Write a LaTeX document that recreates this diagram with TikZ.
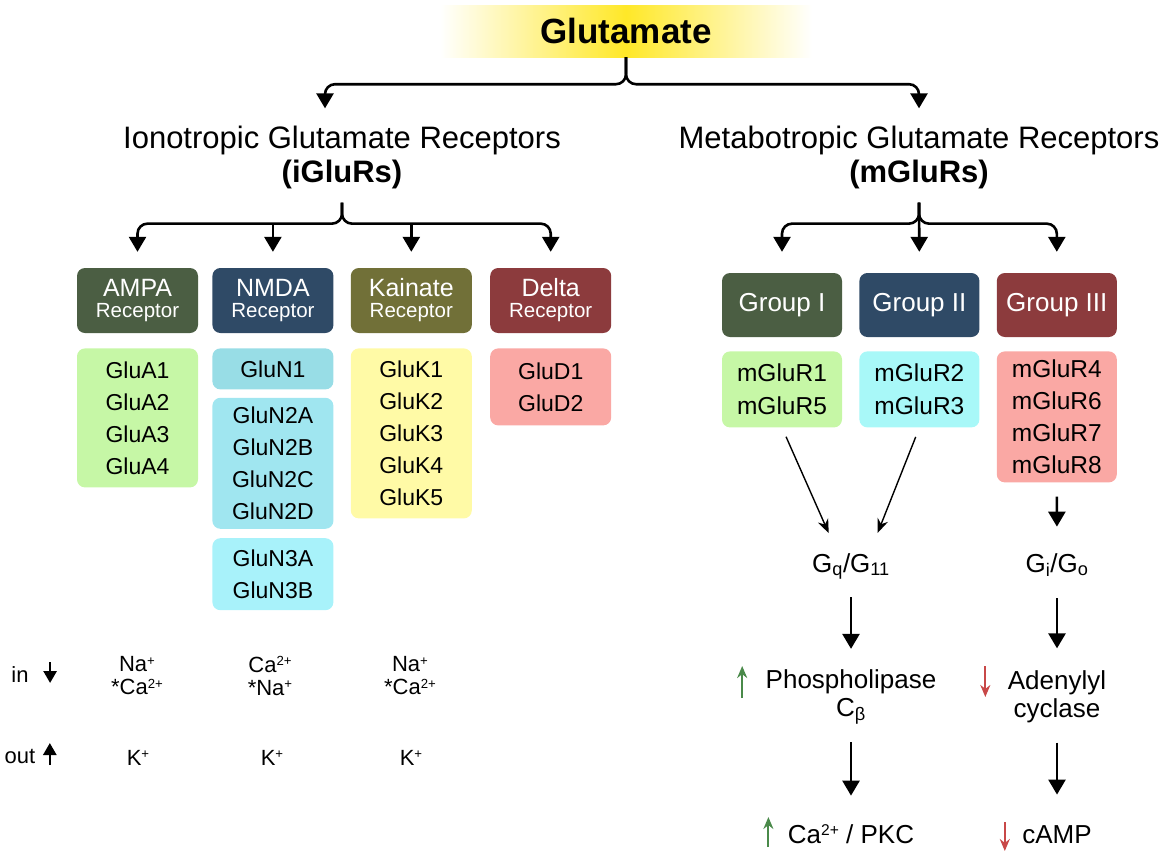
\documentclass[tikz,border=0pt]{standalone}
\usepackage{fontspec}
\setmainfont{Liberation Sans}
\usetikzlibrary{arrows.meta}
\usetikzlibrary{positioning}
\definecolor{glugold}{RGB}{255,232,40}
\definecolor{ampadark}{RGB}{75,94,67}
\definecolor{nmdadark}{RGB}{47,74,102}
\definecolor{kaindark}{RGB}{113,112,56}
\definecolor{deltadark}{RGB}{140,59,61}
\definecolor{ampalight}{RGB}{198,247,166}
\definecolor{nmdaone}{RGB}{152,221,230}
\definecolor{nmdatwo}{RGB}{160,230,240}
\definecolor{nmdathree}{RGB}{168,242,250}
\definecolor{kainlight}{RGB}{255,250,166}
\definecolor{deltalight}{RGB}{250,168,164}
\definecolor{grouptwo}{RGB}{168,248,248}
\definecolor{upgreen}{RGB}{74,138,74}
\definecolor{downred}{RGB}{200,72,72}
\newcommand{\upchg}[1]{\raisebox{0.55ex}{\scalebox{0.6}{#1}}}
\tikzset{
    arrow/.style={-{Triangle[length=15pt,width=17pt]}, line width=2.6pt},
    brace/.style={arrow, rounded corners=10pt},
    thinarrow/.style={-{Stealth[length=14pt,width=11pt]}, line width=1.4pt},
    flowmark/.style={-{Triangle[length=12pt,width=13pt]}, line width=2.6pt},
    upmark/.style={-{Stealth[length=12pt,width=10pt]}, line width=2pt, upgreen},
    downmark/.style={-{Stealth[length=12pt,width=10pt]}, line width=2pt, downred},
    rbox/.style = {
      rectangle,
      rounded corners=8pt,
      minimum width=121pt,
      minimum height=65pt,
      inner sep=2pt,
      text=white,
      align=center,
      font=\fontsize{20.5}{21}\selectfont
    },
    gbox/.style = {rbox, minimum width=120pt, minimum height=64pt, font=\fontsize{26}{26}\selectfont},
    sbox/.style = {
      rectangle,
      rounded corners=8pt,
      minimum width=121pt,
      inner sep=2pt,
      align=center,
      font=\fontsize{23}{32}\selectfont
    },
    flowtext/.style={align=center, font=\fontsize{26}{28}\selectfont},
    iontext/.style={align=center, font=\fontsize{22}{23}\selectfont},
}
\begin{document}
\begin{tikzpicture}[x=1pt, y=-1pt]
      \useasboundingbox (0,0) rectangle (1169,857);

      \node[shade, left color=white, right color=white, middle color=glugold, minimum width=372pt, minimum height=52pt, font=\fontsize{35}{35}\selectfont\bfseries] (glu) at (626,31) {Glutamate};

      \node[align=center, inner sep=0pt, font=\fontsize{31}{34}\selectfont] (ion) at (342,157) {Ionotropic Glutamate Receptors\\\textbf{(iGluRs)}};
      \node[align=center, inner sep=0pt, font=\fontsize{31}{34}\selectfont] (met) at (919,157) {Metabotropic Glutamate Receptors\\\textbf{(mGluRs)}};

      \draw[brace, shorten >=17pt] (glu.south) -- ++(0,27) -| ([xshift=-17pt]ion.north);
      \draw[brace, shorten >=17pt] (glu.south) -- ++(0,27) -| (met.north);

      % ionotropic receptors
      \node[rbox, fill=ampadark] (ampa) at (137.5,300.5) {{\fontsize{25}{25}\selectfont AMPA}\\Receptor};
      \node[rbox, fill=nmdadark, right=14pt of ampa] (nmda) {{\fontsize{25}{25}\selectfont NMDA}\\Receptor};
      \node[rbox, fill=kaindark, right=17pt of nmda] (kain) {{\fontsize{25}{25}\selectfont Kainate}\\Receptor};
      \node[rbox, fill=deltadark, right=18pt of kain] (delta) {{\fontsize{25}{25}\selectfont Delta}\\Receptor};

      \coordinate (ifork) at ([yshift=-35pt]ion.south);
      \draw[brace, shorten <=14pt, shorten >=16pt] (ion.south) -- (ifork) -| (ampa.north);
      \draw[brace, shorten <=14pt, shorten >=16pt] (ion.south) -- (ifork) -| (delta.north);
      \draw[arrow, shorten >=16pt] (ifork -| nmda.north) -- (nmda.north);
      \draw[arrow, shorten >=16pt] (ifork -| kain.north) -- (kain.north);

      \node[sbox, fill=ampalight, minimum height=139pt, below=15pt of ampa] (glua) {GluA1\\GluA2\\GluA3\\GluA4};
      \node[sbox, fill=nmdaone, minimum height=41pt, below=15pt of nmda] (glun1) {GluN1};
      \node[sbox, fill=nmdatwo, minimum height=131pt, below=8pt of glun1] (glun2) {GluN2A\\GluN2B\\GluN2C\\GluN2D};
      \node[sbox, fill=nmdathree, minimum height=72pt, below=9pt of glun2] (glun3) {GluN3A\\GluN3B};
      \node[sbox, fill=kainlight, minimum height=170pt, below=15pt of kain] (gluk) {GluK1\\GluK2\\GluK3\\GluK4\\GluK5};
      \node[sbox, fill=deltalight, minimum height=77pt, below=15pt of delta] (glud) {GluD1\\GluD2};

      % metabotropic receptors
      \node[gbox, fill=ampadark] (grp1) at (782,305) {Group I};
      \node[gbox, fill=nmdadark, right=17pt of grp1] (grp2) {Group II};
      \node[gbox, fill=deltadark, right=17pt of grp2] (grp3) {Group III};

      \coordinate (mfork) at ([yshift=-35pt]met.south);
      \draw[brace, shorten <=14pt, shorten >=21pt] (met.south) -- (mfork) -| (grp1.north);
      \draw[brace, shorten <=14pt, shorten >=21pt] (met.south) -- (mfork) -| (grp3.north);
      \draw[arrow, shorten <=14pt, shorten >=21pt] (met.south) -- (grp2.north);

      \node[sbox, font=\fontsize{24.5}{33}\selectfont, fill=ampalight, minimum width=120pt, minimum height=76pt, below=14pt of grp1] (mglu1) {mGluR1\\mGluR5};
      \node[sbox, font=\fontsize{24.5}{33}\selectfont, fill=grouptwo, minimum width=120pt, minimum height=76pt, below=14pt of grp2] (mglu2) {mGluR2\\mGluR3};
      \node[sbox, font=\fontsize{24.5}{32}\selectfont, fill=deltalight, minimum width=120pt, minimum height=131pt, below=14pt of grp3] (mglu3) {mGluR4\\mGluR6\\mGluR7\\mGluR8};

      \node[flowtext, anchor=base] (gq) at (851,572) {G\textsubscript{q}/G\textsubscript{11}};
      \node[flowtext, anchor=base] (gi) at (1057,572) {G\textsubscript{i}/G\textsubscript{o}};
      \draw[thinarrow, shorten <=10pt, shorten >=18pt] (mglu1.south) -- ([xshift=-15pt]gq.north);
      \draw[thinarrow, shorten <=10pt, shorten >=18pt] (mglu2.south) -- ([xshift=20pt]gq.north);
      \draw[arrow, shorten <=14pt, shorten >=23pt] (mglu3.south) -- (gi.north);

      \node[flowtext] (phos) at (851,697) {Phospholipase\\C\textsubscript{β}};
      \node[flowtext] (aden) at (1057,697) {Adenylyl\\cyclase};
      \draw[arrow, shorten <=14pt, shorten >=17pt] (gq.south) -- (phos.north);
      \draw[arrow, shorten <=18pt, shorten >=19pt] (gi.south) -- (aden.north);

      \node[flowtext, anchor=base] (capkc) at (851,843) {Ca\upchg{2+} / PKC};
      \node[flowtext, anchor=base] (camp) at (1057,843) {cAMP};
      \draw[arrow, shorten <=14pt, shorten >=25pt] (phos.south) -- (capkc.north);
      \draw[arrow, shorten <=16pt, shorten >=27pt] (aden.south) -- (camp.north);

      \draw[upmark] ([xshift=-20pt,yshift=-1pt]phos.west) -- ([xshift=-20pt,yshift=31pt]phos.west);
      \draw[downmark] ([xshift=-19pt,yshift=31pt]aden.west) -- ([xshift=-19pt]aden.west);
      \draw[upmark] ([xshift=-16pt,yshift=-4pt]capkc.base west) -- ([xshift=-16pt,yshift=26pt]capkc.base west);
      \draw[downmark] ([xshift=-14pt,yshift=21pt]camp.base west) -- ([xshift=-14pt,yshift=-8pt]camp.base west);

      % ion flow
      \node[iontext, anchor=base] (inlbl) at (20,682) {in};
      \node[iontext, anchor=base] (outlbl) at (20,763) {out};
      \draw[flowmark] ([xshift=18pt,yshift=20pt]inlbl.base east) -- ([xshift=18pt,yshift=-1pt]inlbl.base east);
      \draw[flowmark] ([xshift=11pt,yshift=-2pt]outlbl.base east) -- ([xshift=11pt,yshift=20pt]outlbl.base east);

      \node[iontext] (ampain) at (137,676) {Na\upchg{+}\\*Ca\upchg{2+}};
      \node[iontext] (nmdain) at (270,676) {Ca\upchg{2+}\\*Na\upchg{+}};
      \node[iontext] (kainin) at (410,676) {Na\upchg{+}\\*Ca\upchg{2+}};
      \node[iontext, anchor=base] (ampaout) at (138,765) {K\upchg{+}};
      \node[iontext, anchor=base] (nmdaout) at (272,765) {K\upchg{+}};
      \node[iontext, anchor=base] (kainout) at (411,765) {K\upchg{+}};
\end{tikzpicture}
\end{document}
